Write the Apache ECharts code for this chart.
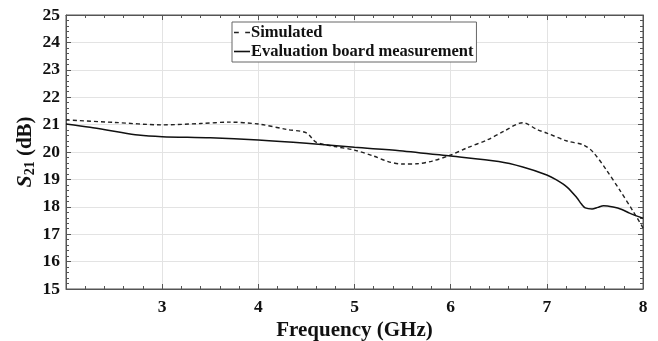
<!DOCTYPE html>
<html>
<head>
<meta charset="utf-8">
<script src="https://cdn.jsdelivr.net/npm/echarts@6/dist/echarts.min.js"></script>
<style>
  html, body { margin: 0; padding: 0; background: #fff; }
  .box { width: 658px; height: 341px; }
</style>
</head>
<body>
<div class="box"></div>
<script>
// frequency (GHz) and S21 (dB)
const simFreq = [2.0, 2.5, 3.0, 3.4, 3.7, 4.0, 4.3, 4.5, 4.6, 4.8, 5.0, 5.2, 5.35, 5.5, 5.65, 5.8, 6.0, 6.17, 6.38, 6.55, 6.75, 6.9, 7.0, 7.21, 7.38, 7.48, 7.62, 7.76, 7.9, 8.0];
const simVals = [21.17, 21.08, 20.99, 21.04, 21.09, 21.02, 20.82, 20.7, 20.36, 20.2, 20.07, 19.85, 19.65, 19.56, 19.57, 19.66, 19.89, 20.15, 20.44, 20.75, 21.07, 20.82, 20.69, 20.4, 20.26, 20.0, 19.34, 18.6, 17.82, 17.23];

const measFreq = [2.0, 2.25, 2.5, 2.75, 3.0, 3.5, 4.0, 4.5, 5.0, 5.47, 6.0, 6.5, 6.75, 7.0, 7.1, 7.21, 7.31, 7.36, 7.40, 7.47, 7.53, 7.59, 7.69, 7.78, 7.86, 8.0];
const measVals = [21.02, 20.9, 20.76, 20.62, 20.56, 20.52, 20.44, 20.32, 20.17, 20.05, 19.85, 19.65, 19.45, 19.16, 18.98, 18.72, 18.34, 18.1, 17.96, 17.92, 17.98, 18.04, 17.99, 17.9, 17.77, 17.58];

const xTicks = [2, 3, 4, 5, 6, 7, 8];
const yRange = [15, 25];

const chartDom = document.getElementsByClassName('box')[0];
const myChart = echarts.init(chartDom);

const font = 'Liberation Serif';
const pair = (xs, ys) => xs.map((x, i) => [x, ys[i]]);

const tickStyle = {
    axisTick: { show: true, inside: true, length: 5, lineStyle: { color: '#555' } },
    minorTick: { show: true, splitNumber: 5, length: 3, lineStyle: { color: '#555' } },
    axisLine: { show: true, lineStyle: { color: '#555', width: 1 } }
};

const option = {
    animation: false,
    grid: {
        left: 66, right: 15, top: 15, bottom: 52,
        outerBoundsMode: 'none', containLabel: false,
        show: true, borderColor: '#555', borderWidth: 1
    },
    legend: {
        left: 232, top: 22,
        orient: 'vertical',
        itemGap: 2,
        itemWidth: 16,
        itemHeight: 10,
        padding: [2, 3, 2, 2],
        borderColor: '#666',
        borderWidth: 1,
        backgroundColor: '#fff',
        textStyle: { fontFamily: font, fontWeight: 'bold', fontSize: 16.5, color: '#111', padding: [0, 0, 0, -4] },
        data: [
            { name: 'Simulated', icon: 'path://M0,0H3V1H0Z M7,0H10V1H7Z' },
            { name: 'Evaluation board measurement', icon: 'path://M0,0H10V1H0Z' }
        ]
    },
    xAxis: [{
        type: 'value', min: xTicks[0], max: xTicks[xTicks.length - 1], interval: 1,
        name: 'Frequency (GHz)', nameLocation: 'middle', nameGap: 31, nameMoveOverlap: false,
        nameTextStyle: { fontFamily: font, fontWeight: 'bold', fontSize: 21, color: '#111' },
        axisLabel: {
            fontFamily: font, fontWeight: 'bold', fontSize: 17.5, color: '#111', margin: 9,
            formatter: v => (v === 2 ? '' : v)
        },
        splitLine: { show: true, lineStyle: { color: '#e3e3e3' } },
        ...tickStyle
    }, {
        type: 'value', min: xTicks[0], max: xTicks[xTicks.length - 1], interval: 1, position: 'top',
        axisLabel: { show: false }, splitLine: { show: false },
        ...tickStyle
    }],
    yAxis: [{
        type: 'value', min: yRange[0], max: yRange[1], interval: 1,
        name: '{s|S}{sub|21}{n| (dB)}', nameLocation: 'middle', nameGap: 29, nameRotate: 90,
        nameMoveOverlap: false,
        nameTextStyle: {
            rich: {
                s: { fontFamily: font, fontWeight: 'bold', fontStyle: 'italic', fontSize: 22, color: '#111' },
                sub: { fontFamily: font, fontWeight: 'bold', fontSize: 14, color: '#111', verticalAlign: 'bottom', padding: [9, 0, 0, 0] },
                n: { fontFamily: font, fontWeight: 'bold', fontSize: 21, color: '#111' }
            }
        },
        axisLabel: { fontFamily: font, fontWeight: 'bold', fontSize: 17.5, color: '#111', margin: 6 },
        splitLine: { show: true, lineStyle: { color: '#e3e3e3' } },
        ...tickStyle
    }, {
        type: 'value', min: yRange[0], max: yRange[1], interval: 1, position: 'right',
        axisLabel: { show: false }, splitLine: { show: false },
        ...tickStyle
    }],
    series: [{
        name: 'Simulated',
        type: 'line',
        smooth: 0.3,
        symbol: 'none',
        lineStyle: { color: '#222', width: 1.4, type: [4, 3] },
        itemStyle: { color: '#222' },
        data: pair(simFreq, simVals)
    }, {
        name: 'Evaluation board measurement',
        type: 'line',
        smooth: 0.3,
        symbol: 'none',
        lineStyle: { color: '#111', width: 1.5 },
        itemStyle: { color: '#111' },
        data: pair(measFreq, measVals)
    }]
};

myChart.setOption(option);
</script>
</body>
</html>
